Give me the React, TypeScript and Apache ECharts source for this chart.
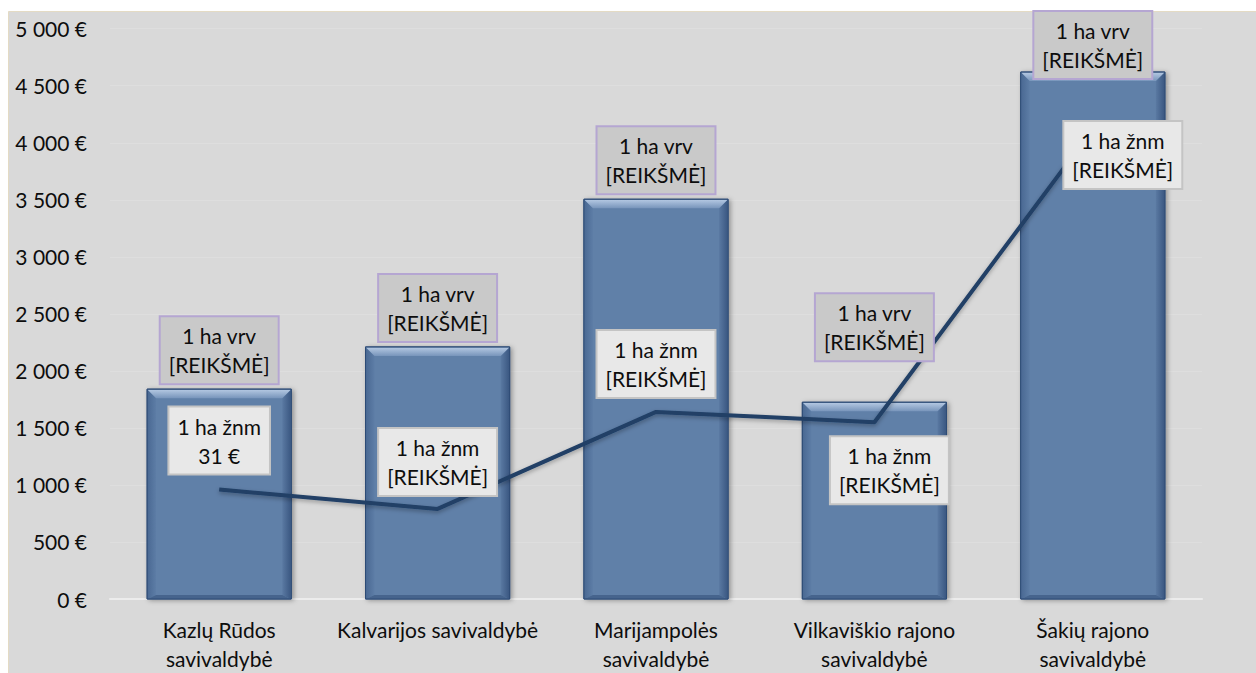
import React, { useEffect, useRef } from "react";
import * as echarts from "echarts";

const categories = [
  "Kazlų Rūdos\nsavivaldybė",
  "Kalvarijos savivaldybė",
  "Marijampolės\nsavivaldybė",
  "Vilkaviškio rajono\nsavivaldybė",
  "Šakių rajono\nsavivaldybė",
];
const vrvValues = [1840, 2210, 3505, 1725, 4620];
const znmValues = [960, 790, 1640, 1550, 4120];
const vrvLabels = [
  "1 ha vrv\n[REIKŠMĖ]",
  "1 ha vrv\n[REIKŠMĖ]",
  "1 ha vrv\n[REIKŠMĖ]",
  "1 ha vrv\n[REIKŠMĖ]",
  "1 ha vrv\n[REIKŠMĖ]",
];
const znmLabels = [
  "1 ha žnm\n31 €",
  "1 ha žnm\n[REIKŠMĖ]",
  "1 ha žnm\n[REIKŠMĖ]",
  "1 ha žnm\n[REIKŠMĖ]",
  "1 ha žnm\n[REIKŠMĖ]",
];
const yMin = 0;
const yMax = 5000;
const yInterval = 500;

// label placement (layout only)
const vrvLabelOffsets = [[0, 0], [0, 0], [0, 0], [0, -36], [0, 12]];
const znmLabelOffsets = [[0, -49], [0, -47], [0, -48], [15, 48], [30, 26]];

const FONT = "Lato, 'Open Sans', sans-serif";

function formatEuro(v: number): string {
  const s = String(Math.round(v));
  return s.replace(/\B(?=(\d{3})+(?!\d))/g, " ") + " €";
}

export default function App() {
  const ref = useRef<HTMLDivElement>(null);
  useEffect(() => {
    if (!ref.current) return;
    const chart = echarts.init(ref.current, null, { renderer: "svg" });
    const barRatio = 0.66;
    const option: any = {
      animation: false,
      backgroundColor: "#ffffff",
      textStyle: { fontFamily: FONT },
      graphic: [
        {
          type: "rect",
          z: -100,
          silent: true,
          shape: { x: 8.5, y: 11.5, width: 1260, height: 680 },
          style: { fill: "#d9d9d9", stroke: "#e4dbc4", lineWidth: 1 },
        },
      ],
      grid: { left: 110, right: 54, top: 28.7, bottom: 73, containLabel: false },
      xAxis: {
        type: "category",
        data: categories,
        axisLine: { show: true, lineStyle: { color: "#ececec", width: 2 } },
        axisTick: { show: false },
        axisLabel: {
          interval: 0,
          margin: 16,
          color: "#0d0d0d",
          fontSize: 21,
          lineHeight: 29,
          fontFamily: FONT,
          align: "center",
        },
        splitLine: { show: false },
      },
      yAxis: {
        type: "value",
        min: yMin,
        max: yMax,
        interval: yInterval,
        axisLine: { show: false },
        axisTick: { show: false },
        axisLabel: {
          margin: 23,
          color: "#0d0d0d",
          fontSize: 21,
          fontFamily: FONT,
          formatter: (v: number) => formatEuro(v),
        },
        splitLine: { show: true, lineStyle: { color: "#dedede", width: 1 } },
      },
      series: [
        {
          name: "bevel bars",
          type: "custom",
          z: 2,
          data: vrvValues.map((v, i) => [i, v]),
          encode: { x: 0, y: 1 },
          renderItem: (params: any, api: any) => {
            const idx = api.value(0);
            const val = api.value(1);
            const top = api.coord([idx, val]);
            const base = api.coord([idx, 0]);
            const w = api.size([1, 0])[0] * barRatio;
            const x0 = top[0] - w / 2;
            const x1 = top[0] + w / 2;
            const y0 = top[1];
            const y1 = base[1];
            const b = 9;
            const bb = 4;
            return {
              type: "group",
              children: [
                {
                  type: "rect",
                  shape: { x: x0, y: y0, width: w, height: y1 - y0 },
                  style: {
                    fill: "#6080a8",
                    stroke: "#2e4c76",
                    lineWidth: 1,
                    shadowBlur: 5,
                    shadowOffsetX: 2,
                    shadowOffsetY: 1,
                    shadowColor: "rgba(0,0,0,0.35)",
                  },
                },
                {
                  type: "polygon",
                  shape: {
                    points: [
                      [x0 + 0.5, y0 + 0.5],
                      [x0 + b, y0 + b],
                      [x0 + b, y1 - bb],
                      [x0 + 0.5, y1],
                    ],
                  },
                  style: {
                    fill: new echarts.graphic.LinearGradient(0, 0, 1, 0, [
                      { offset: 0, color: "#4a6993" },
                      { offset: 1, color: "#5d7da6" },
                    ]),
                  },
                },
                {
                  type: "polygon",
                  shape: {
                    points: [
                      [x1 - 0.5, y0 + 0.5],
                      [x1 - b, y0 + b],
                      [x1 - b, y1 - bb],
                      [x1 - 0.5, y1],
                    ],
                  },
                  style: {
                    fill: new echarts.graphic.LinearGradient(1, 0, 0, 0, [
                      { offset: 0, color: "#3b5882" },
                      { offset: 1, color: "#5a79a2" },
                    ]),
                  },
                },
                {
                  type: "polygon",
                  shape: {
                    points: [
                      [x0 + 0.5, y1],
                      [x0 + b, y1 - bb],
                      [x1 - b, y1 - bb],
                      [x1 - 0.5, y1],
                    ],
                  },
                  style: { fill: "#46648d" },
                },
                {
                  type: "polygon",
                  shape: {
                    points: [
                      [x0 + 0.5, y0 + 0.5],
                      [x1 - 0.5, y0 + 0.5],
                      [x1 - b, y0 + b],
                      [x0 + b, y0 + b],
                    ],
                  },
                  style: {
                    fill: new echarts.graphic.LinearGradient(0, 0, 0, 1, [
                      { offset: 0, color: "#b4c8e2" },
                      { offset: 1, color: "#7895bb" },
                    ]),
                  },
                },
                {
                  type: "rect",
                  shape: { x: x0, y: y0, width: w, height: y1 - y0 },
                  style: { fill: "none", stroke: "#2e4c76", lineWidth: 1 },
                },
              ],
            };
          },
        },
        {
          name: "1 ha žnm",
          type: "line",
          z: 4,
          data: znmValues.map((v, i) => ({
            value: v,
            label: {
              formatter: znmLabels[i],
              offset: znmLabelOffsets[i],
            },
          })),
          symbol: "circle",
          symbolSize: 1,
          showSymbol: true,
          itemStyle: { color: "rgba(0,0,0,0)" },
          lineStyle: {
            color: "#203f66",
            width: 4,
            shadowBlur: 4,
            shadowOffsetY: 2,
            shadowColor: "rgba(0,0,0,0.3)",
          },
          label: {
            show: true,
            position: "inside",
            color: "#0d0d0d",
            fontSize: 21,
            lineHeight: 29,
            fontFamily: FONT,
            backgroundColor: "#e8e8e8",
            borderColor: "#c4c4c4",
            borderWidth: 2,
            padding: [4, 8, 4, 8],
            align: "center",
            verticalAlign: "middle",
          },
        },
        {
          name: "1 ha vrv",
          type: "bar",
          z: 5,
          barWidth: "66%",
          data: vrvValues.map((v, i) => ({
            value: v,
            label: {
              formatter: vrvLabels[i],
              offset: vrvLabelOffsets[i],
            },
          })),
          itemStyle: { color: "rgba(0,0,0,0)" },
          label: {
            show: true,
            position: "top",
            distance: 6,
            color: "#0d0d0d",
            fontSize: 21,
            lineHeight: 29,
            fontFamily: FONT,
            backgroundColor: "#c9c9c9",
            borderColor: "#b5a6d2",
            borderWidth: 2,
            padding: [4, 8, 4, 8],
            align: "center",
          },
        },
      ],
    };
    chart.setOption(option);
    return () => chart.dispose();
  }, []);
  return (
    <div
      ref={ref}
      style={{ position: "absolute", left: 0, top: 0, width: 1256, height: 673 }}
    />
  );
}
